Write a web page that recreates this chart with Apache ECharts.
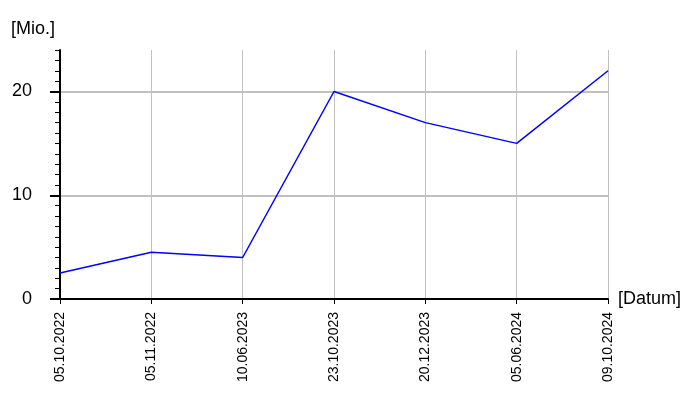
<!DOCTYPE html>
<html>
<head>
<meta charset="utf-8">
<script src="https://cdn.jsdelivr.net/npm/echarts@6/dist/echarts.min.js"></script>
<style>
html,body{margin:0;padding:0;background:#fff;}
#chart{width:700px;height:400px;}
</style>
</head>
<body>
<div id="chart"></div>
<script>
const categories = ['05.10.2022','05.11.2022','10.06.2023','23.10.2023','20.12.2023','05.06.2024','09.10.2024'];
const values = [2.5, 4.5, 4.0, 20.0, 17.0, 15.0, 22.0];
const yTickLabels = [0, 10, 20];
const yMax = 24;
const xAxisName = '[Datum]';
const yAxisName = '[Mio.]';

const font = 'Liberation Sans, Arial, sans-serif';
const chart = echarts.init(document.getElementById('chart'));
chart.setOption({
  animation: false,
  backgroundColor: '#ffffff',
  grid: {left: 60, right: 92, top: 50, bottom: 101, containLabel: false},
  xAxis: {
    type: 'category',
    data: categories,
    boundaryGap: false,
    name: xAxisName,
    nameLocation: 'end',
    nameGap: 10,
    nameTextStyle: {color: '#000', fontSize: 18, fontFamily: font, verticalAlign: 'middle'},
    axisLine: {show: true, lineStyle: {color: '#000', width: 2}},
    axisTick: {show: true, length: 5, alignWithLabel: true, lineStyle: {color: '#000', width: 1}},
    axisLabel: {rotate: 90, margin: 13, color: '#000', fontSize: 14, fontFamily: font, interval: 0},
    splitLine: {show: true, lineStyle: {color: '#c0c0c0', width: 1}}
  },
  yAxis: [{
    type: 'value',
    min: 0,
    max: yMax,
    interval: 10,
    name: yAxisName,
    nameLocation: 'end',
    nameGap: 12,
    nameTextStyle: {color: '#000', fontSize: 18, fontFamily: font, align: 'right', padding: [0, 5, 0, 0]},
    axisLine: {show: true, lineStyle: {color: '#000', width: 2}},
    axisTick: {show: true, length: 10, customValues: yTickLabels, lineStyle: {color: '#000', width: 2}},
    axisLabel: {customValues: yTickLabels, margin: 28, color: '#000', fontSize: 18, fontFamily: font},
    splitLine: {show: true, lineStyle: {color: '#c0c0c0', width: 2}}
  }, {
    type: 'value',
    min: 0,
    max: yMax,
    interval: 1,
    position: 'left',
    axisLine: {show: false},
    axisTick: {show: true, length: 5, lineStyle: {color: '#000', width: 1}},
    axisLabel: {show: false},
    splitLine: {show: false}
  }],
  series: [{
    type: 'line',
    data: values,
    yAxisIndex: 0,
    symbol: 'none',
    lineStyle: {color: '#0000ff', width: 1.5},
    itemStyle: {color: '#0000ff'}
  }]
});
</script>
</body>
</html>
